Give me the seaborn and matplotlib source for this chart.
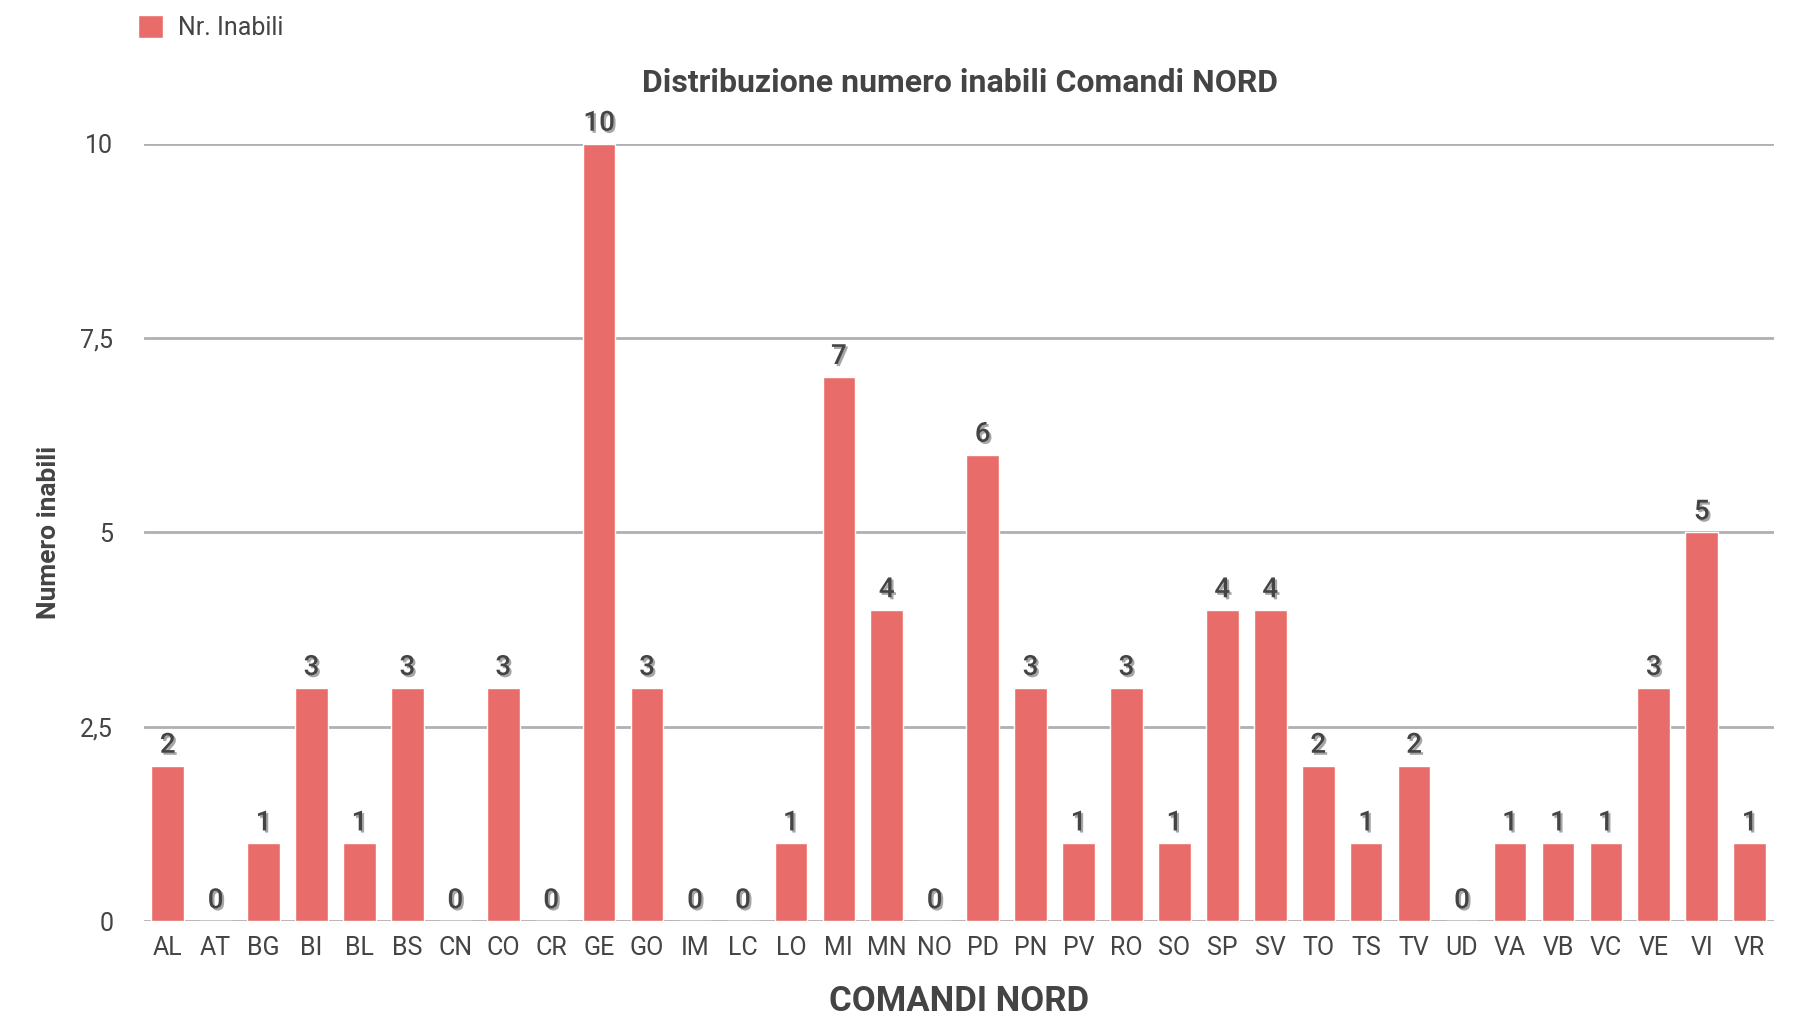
import matplotlib
matplotlib.use("Agg")
import matplotlib.pyplot as plt
import matplotlib.patheffects as pe
import pandas as pd
import seaborn as sns

# Dati del grafico
comandi = ["AL", "AT", "BG", "BI", "BL", "BS", "CN", "CO", "CR", "GE", "GO", "IM",
           "LC", "LO", "MI", "MN", "NO", "PD", "PN", "PV", "RO", "SO", "SP", "SV",
           "TO", "TS", "TV", "UD", "VA", "VB", "VC", "VE", "VI", "VR"]
inabili = [2, 0, 1, 3, 1, 3, 0, 3, 0, 10, 3, 0,
           0, 1, 7, 4, 0, 6, 3, 1, 3, 1, 4, 4,
           2, 1, 2, 0, 1, 1, 1, 3, 5, 1]
y_ticks = [0, 2.5, 5, 7.5, 10]
y_tick_labels = ["0", "2,5", "5", "7,5", "10"]

df = pd.DataFrame({"Comando": comandi, "Inabili": inabili})

sns.set_style("white")
plt.rcParams["font.family"] = ["Roboto", "DejaVu Sans"]

TEXT = "#444444"
BAR = "#E86D6A"

fig = plt.figure(figsize=(17.97, 10.19), dpi=100)
ax = fig.add_axes([0.080, 0.096, 0.907, 0.763])

sns.barplot(data=df, x="Comando", y="Inabili", color=BAR, width=0.68,
            saturation=1, label="Nr. Inabili", ax=ax)

ax.set_xlim(-0.5, len(comandi) - 0.5)
ax.set_ylim(0, 10)
ax.set_yticks(y_ticks)
ax.set_yticklabels(y_tick_labels)
ax.grid(axis="y", color="#b0b0b0", linewidth=2)
ax.set_axisbelow(True)
for s in ax.spines.values():
    s.set_visible(False)
ax.tick_params(axis="y", length=0, pad=22, labelsize=18, labelcolor=TEXT)
ax.tick_params(axis="x", length=0, pad=11, labelsize=18, labelcolor=TEXT)

# Etichette valore sopra le barre, con leggera ombra
for cont in ax.containers:
    labels = ax.bar_label(cont, padding=5, fontsize=20, fontweight="medium",
                          color=TEXT, clip_on=False)
    for t in labels:
        t.set_path_effects([pe.withSimplePatchShadow(offset=(1.5, -1.5),
                                                     shadow_rgbFace="#000000",
                                                     alpha=0.35)])

ax.set_xlabel("COMANDI NORD", fontsize=25, fontweight="bold", color=TEXT, labelpad=18)
ax.set_ylabel("Numero inabili", fontsize=19, fontweight="bold", color=TEXT, labelpad=14)
fig.text(0.534, 0.919, "Distribuzione numero inabili Comandi NORD", ha="center",
         va="center", fontsize=23, fontweight="bold", color=TEXT)

ax.legend(loc="center left", bbox_to_anchor=(0.064, 0.973), bbox_transform=fig.transFigure,
          frameon=False, handlelength=1.0, handleheight=1.0, handletextpad=0.6,
          prop={"size": 18}, labelcolor=TEXT)

fig.savefig("out.png", dpi=100)
